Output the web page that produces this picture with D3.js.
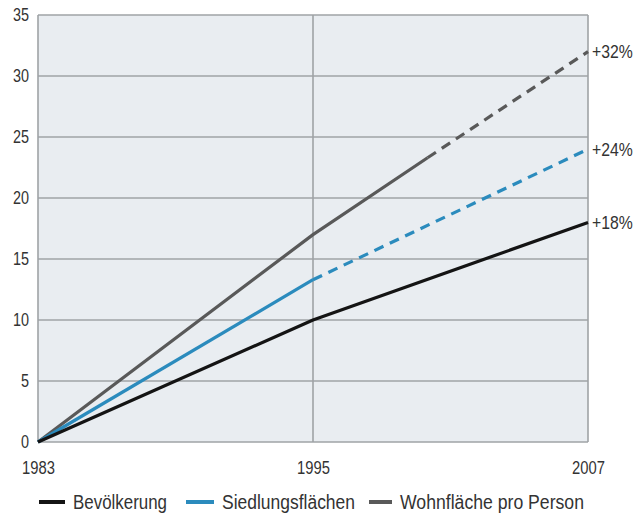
<!DOCTYPE html>
<html>
<head>
<meta charset="utf-8">
<script src="https://cdn.jsdelivr.net/npm/d3@7"></script>
<style>
  html, body { margin: 0; padding: 0; background: #ffffff; }
  svg { display: block; }
  text { font-family: "Liberation Sans", Arial, sans-serif; fill: #333; }
</style>
</head>
<body>
<svg id="chart" width="642" height="524"></svg>
<script>
// Growth since 1983, in percent
const yTicks = [0, 5, 10, 15, 20, 25, 30, 35];
const xTicks = [1983, 1995, 2007];

// Bevölkerung: measured throughout
const bevoelkerungYears = [1983, 1995, 2007];
const bevoelkerung = [0, 10, 18];

// Siedlungsflächen: measured to 1995, projected after
const siedlungMeasuredYears = [1983, 1995];
const siedlungMeasured = [0, 13.3];
const siedlungProjectedYears = [1995, 2007];
const siedlungProjected = [13.3, 24];

// Wohnfläche pro Person: measured to 2000, projected after
const wohnMeasuredYears = [1983, 1995, 2000];
const wohnMeasured = [0, 17, 23.3];
const wohnProjectedYears = [2000, 2007];
const wohnProjected = [23.3, 32];

const endLabels = ["+32%", "+24%", "+18%"];
const endValues = [32, 24, 18];

const legendNames = ["Bevölkerung", "Siedlungsflächen", "Wohnfläche pro Person"];
const colors = ["#141414", "#2b8bbd", "#595959"];

const svg = d3.select("#chart");
const margin = { left: 38, right: 54, top: 15, bottom: 82 };
const W = 642, H = 524;

const x = d3.scaleLinear().domain([1983, 2007]).range([margin.left, W - margin.right]);
const y = d3.scaleLinear().domain([0, 35]).range([H - margin.bottom, margin.top]);

// squeeze text horizontally to get a condensed face
function condense(sel, factor) {
  sel.each(function () {
    const w = this.getComputedTextLength();
    d3.select(this).attr("textLength", w * factor).attr("lengthAdjust", "spacingAndGlyphs");
  });
}

// plot background
svg.append("rect")
  .attr("x", x(1983)).attr("y", y(35))
  .attr("width", x(2007) - x(1983)).attr("height", y(0) - y(35))
  .attr("fill", "#e9edf1");

// horizontal grid
svg.append("g").selectAll("line").data(yTicks).join("line")
  .attr("x1", x(1983)).attr("x2", x(2007))
  .attr("y1", d => y(d)).attr("y2", d => y(d))
  .attr("stroke", "#9fa3a6").attr("stroke-width", 1.6);

// vertical grid / frame
svg.append("g").selectAll("line").data(xTicks).join("line")
  .attr("x1", d => x(d)).attr("x2", d => x(d))
  .attr("y1", y(0)).attr("y2", y(35))
  .attr("stroke", "#9fa3a6").attr("stroke-width", 1.6);

// y axis labels
const yAxis = d3.axisLeft(y).tickValues(yTicks).tickSize(0).tickPadding(9);
const gy = svg.append("g").attr("transform", `translate(${x(1983)},0)`).call(yAxis);
gy.select(".domain").remove();
gy.selectAll("text").attr("font-size", 18).attr("fill", "#333")
  .style("font-family", '"Liberation Sans", Arial, sans-serif')
  .call(condense, 0.8);

// x axis labels
const xAxis = d3.axisBottom(x).tickValues(xTicks).tickFormat(d3.format("d")).tickSize(0).tickPadding(19);
const gx = svg.append("g").attr("transform", `translate(0,${y(0)})`).call(xAxis);
gx.select(".domain").remove();
gx.selectAll("text").attr("font-size", 18).attr("fill", "#333")
  .style("font-family", '"Liberation Sans", Arial, sans-serif')
  .call(condense, 0.82);

const line = d3.line().x(d => x(d[0])).y(d => y(d[1]));
const zip = (a, b) => a.map((v, i) => [v, b[i]]);

function drawLine(xs, vs, color, dashed) {
  svg.append("path")
    .datum(zip(xs, vs))
    .attr("d", line)
    .attr("fill", "none")
    .attr("stroke", color)
    .attr("stroke-width", 3.2)
    .attr("stroke-linejoin", "round")
    .attr("stroke-dasharray", dashed ? "10,7" : null);
}

drawLine(wohnProjectedYears, wohnProjected, colors[2], true);
drawLine(wohnMeasuredYears, wohnMeasured, colors[2], false);
drawLine(siedlungProjectedYears, siedlungProjected, colors[1], true);
drawLine(siedlungMeasuredYears, siedlungMeasured, colors[1], false);
drawLine(bevoelkerungYears, bevoelkerung, colors[0], false);

// end labels
svg.append("g").selectAll("text").data(endLabels).join("text")
  .attr("x", x(2007) + 4)
  .attr("y", (d, i) => y(endValues[i]))
  .attr("dy", "0.35em")
  .attr("font-size", 19)
  .attr("fill", "#333")
  .text(d => d)
  .call(condense, 0.83);

// legend
const legendX = [39, 186, 369];
const legendLen = [26, 28, 23];
const legendW = [94, 133, 184];
const lg = svg.append("g").attr("transform", "translate(0,502)");
legendNames.forEach((name, i) => {
  lg.append("line")
    .attr("x1", legendX[i]).attr("x2", legendX[i] + legendLen[i])
    .attr("y1", 0).attr("y2", 0)
    .attr("stroke", colors[i]).attr("stroke-width", 4);
  lg.append("text")
    .attr("x", legendX[i] + legendLen[i] + 8)
    .attr("y", 0).attr("dy", "0.35em")
    .attr("font-size", 20)
    .attr("fill", "#333")
    .attr("textLength", legendW[i])
    .attr("lengthAdjust", "spacingAndGlyphs")
    .text(name);
});
</script>
</body>
</html>
